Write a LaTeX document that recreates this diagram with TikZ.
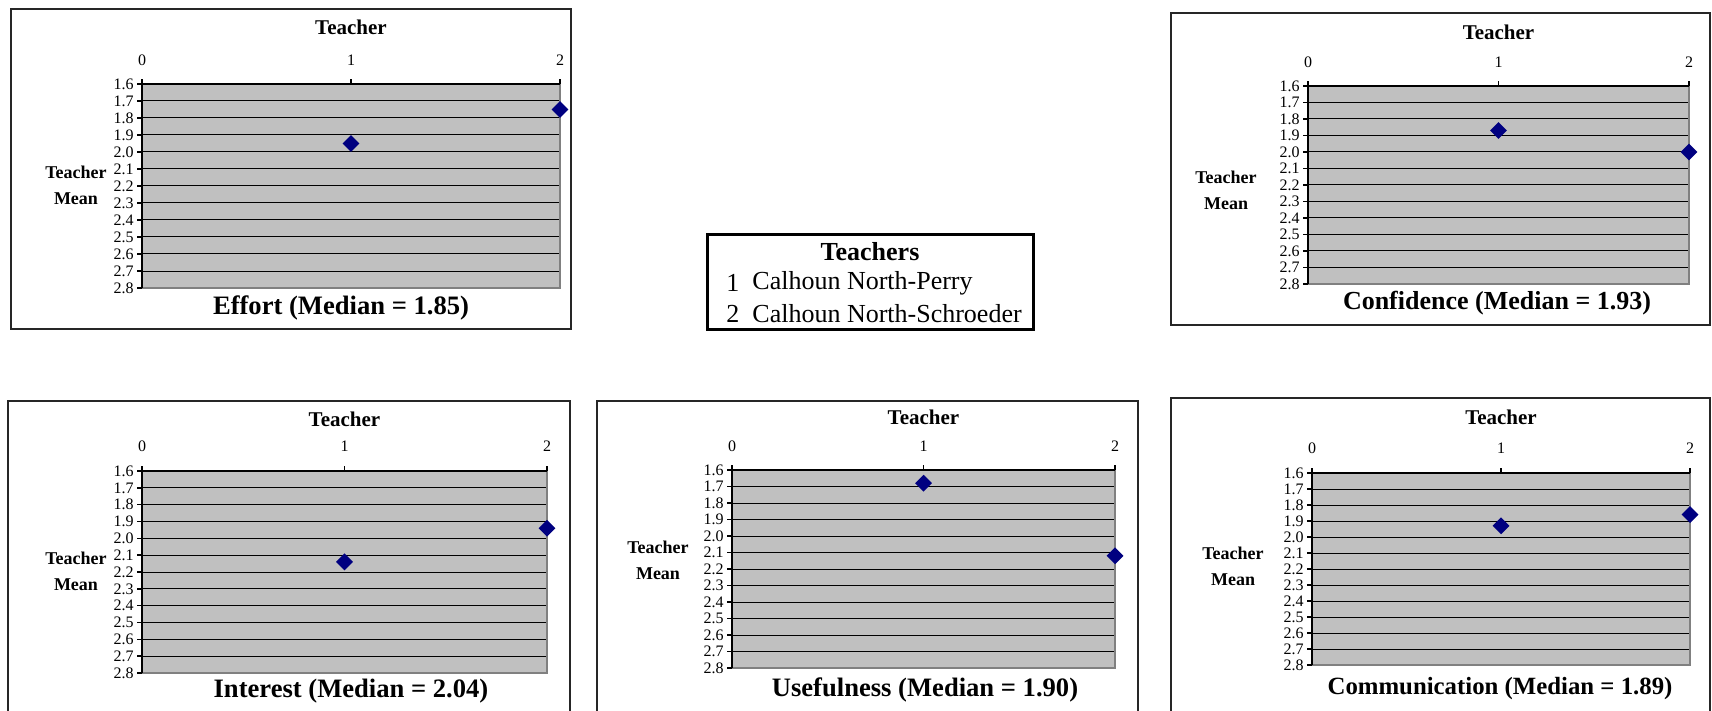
\documentclass[tikz,border=0pt]{standalone}
\usepackage{fontspec}
\setmainfont{Liberation Serif}
\usetikzlibrary{shapes.geometric}
\definecolor{plotgray}{HTML}{C0C0C0}
\definecolor{edgegray}{HTML}{808080}
\definecolor{navyblue}{HTML}{000080}
\begin{document}
\begin{tikzpicture}[x=0.5pt,y=-0.5pt,
  boxline/.style={draw=black!85, line width=0.6pt},
  gridline/.style={draw=black, line width=0.5pt},
  axisline/.style={draw=black, line width=0.7pt},
  tick/.style={font=\fontsize{8}{9}\selectfont, inner sep=0pt},
  axtitle/.style={font=\bfseries\fontsize{10.5}{12}\selectfont, inner sep=0pt},
  meanlabel/.style={font=\bfseries\fontsize{9}{13}\selectfont, align=center, inner sep=0pt},
  charttitle/.style={inner sep=0pt},
  datapt/.style={diamond, aspect=1, fill=navyblue, inner sep=0pt, minimum size=8.6pt},
  legtext/.style={font=\fontsize{13}{15}\selectfont, inner sep=0pt},
  legtitle/.style={font=\bfseries\fontsize{13}{15}\selectfont, inner sep=0pt}]
\useasboundingbox (0,0) rectangle (1712,711);
\clip (0,0) rectangle (1712,711);
\fill[white] (0,0) rectangle (1712,711);

\foreach \nm/\bl/\bt/\br/\bb/\pl/\pr/\pt/\pb/\ty/\ly/\mx/\my/\tx/\tiy/\da/\db/\fs/\ttxt in {
  eff/11/9/571/329/142/560/84/288/27/60/76/185/341/308/1.95/1.75/13.3/{Effort (Median = 1.85)},
  con/1171/13/1710/325/1308/1689/86/284/32/62/1226/190/1497/303/1.87/2.00/13/{Confidence (Median = 1.93)},
  int/8/401/570/720/142/547/471/673/419/446/76/571/351/691/2.14/1.94/13.3/{Interest (Median = 2.04)},
  use/597/401/1138/720/732/1115/470/668/417/446/658/560/925/690/1.68/2.12/13.3/{Usefulness (Median = 1.90)},
  com/1171/398/1710/720/1312/1690/473/665/417/448/1233/566/1500/689/1.93/1.86/12.4/{Communication (Median = 1.89)}
}{
  \draw[boxline] (\bl,\bt) rectangle (\br,\bb);
  \fill[plotgray] (\pl,\pt) rectangle (\pr,\pb);
  \foreach \k in {1,...,11}{
    \draw[gridline] (\pl,{\pt+\k*(\pb-\pt)/12}) -- (\pr,{\pt+\k*(\pb-\pt)/12});
  }
  \draw[draw=edgegray, line width=1pt] (\pl,\pb) -- (\pr,\pb) -- (\pr,\pt);
  \draw[axisline] (\pl,\pb) -- (\pl,\pt) -- (\pr,\pt);
  \foreach \k/\v in {0/1.6,1/1.7,2/1.8,3/1.9,4/2.0,5/2.1,6/2.2,7/2.3,8/2.4,9/2.5,10/2.6,11/2.7,12/2.8}{
    \draw[axisline] ({\pl-5},{\pt+\k*(\pb-\pt)/12}) -- (\pl,{\pt+\k*(\pb-\pt)/12});
    \node[tick, anchor=east] (\nm-y\k) at ({\pl-8},{\pt+\k*(\pb-\pt)/12}) {\v};
  }
  \foreach \j in {0,1,2}{
    \draw[axisline] ({\pl+\j*(\pr-\pl)/2},\pt) -- ({\pl+\j*(\pr-\pl)/2},{\pt-5});
    \node[tick] (\nm-x\j) at ({\pl+\j*(\pr-\pl)/2},\ly) {\j};
  }
  \node[axtitle] (\nm-ax) at ({(\pl+\pr)/2},\ty) {Teacher};
  \node[meanlabel] (\nm-mean) at (\mx,\my) {Teacher\\Mean};
  \node[charttitle, font=\bfseries\fontsize{\fs}{15}\selectfont] (\nm-title) at (\tx,\tiy) {\ttxt};
  \node[datapt] (\nm-p1) at ({(\pl+\pr)/2},{\pt+(\da-1.6)/1.2*(\pb-\pt)}) {};
  \node[datapt] (\nm-p2) at (\pr,{\pt+(\db-1.6)/1.2*(\pb-\pt)}) {};
}

% legend
\draw[line width=1.5pt] (707,235) rectangle (1033,329);
\node[legtitle] (legT) at (870,252) {Teachers};
\node[legtext, anchor=west] (legN1) at (726,283) {1};
\node[legtext, anchor=west] (legN2) at (726,314) {2};
\node[legtext, anchor=west] (legL1) at (752,283) {Calhoun North-Perry};
\node[legtext, anchor=west] (legL2) at (752,314) {Calhoun North-Schroeder};
\end{tikzpicture}
\end{document}
